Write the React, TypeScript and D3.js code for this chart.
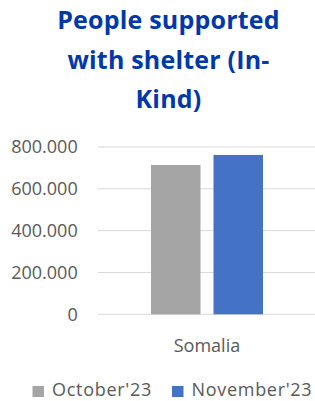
import React from "react";
import * as d3 from "d3";

const titleLines = ["People supported", "with shelter (In-", "Kind)"];
const categories = ["Somalia"];
const seriesNames = ["October'23", "November'23"];
const seriesValues = [[714000], [762000]];
const seriesColors = ["#A5A5A5", "#4472C4"];
const yTicks = [0, 200000, 400000, 600000, 800000];

const W = 315;
const H = 401;
const FONT = "'Open Sans', sans-serif";

export default function App() {
  const y = d3.scaleLinear().domain([0, 800000]).range([314.3, 147]);
  const x0 = d3
    .scaleBand<string>()
    .domain(categories)
    .range([98, 316])
    .paddingInner(0)
    .paddingOuter(0.473);
  const x1 = d3
    .scaleBand<string>()
    .domain(seriesNames)
    .range([0, x0.bandwidth()])
    .paddingInner(0.208)
    .paddingOuter(0);
  const fmt = (v: number) => d3.format(",")(v).replace(/,/g, ".");

  return (
    <svg
      width={W}
      height={H}
      style={{ position: "absolute", left: 0, top: 0, background: "#fff" }}
      fontFamily={FONT}
    >
      {titleLines.map((t, i) => (
        <text
          key={t}
          x={168.5}
          y={29 + i * 39.5}
          textAnchor="middle"
          fontSize={25}
          letterSpacing={0.2}
          fontWeight="bold"
          fill="#0038A8"
        >
          {t}
        </text>
      ))}
      {yTicks.map((t) => (
        <g key={t}>
          <line x1={98} x2={316} y1={y(t)} y2={y(t)} stroke="#D9D9D9" strokeWidth={1} />
          <text
            x={77.7}
            y={y(t)}
            dy="0.36em"
            textAnchor="end"
            fontSize={18}
            fill="#595959"
          >
            {fmt(t)}
          </text>
        </g>
      ))}
      {categories.map((c, ci) => (
        <g key={c} transform={`translate(${x0(c)},0)`}>
          {seriesNames.map((s, si) => (
            <rect
              key={s}
              x={x1(s)}
              y={y(seriesValues[si][ci])}
              width={x1.bandwidth()}
              height={y(0) - y(seriesValues[si][ci])}
              fill={seriesColors[si]}
            />
          ))}
          <text
            x={x0.bandwidth() / 2}
            y={352}
            textAnchor="middle"
            fontSize={18}
            fill="#595959"
          >
            {c}
          </text>
        </g>
      ))}
      <g>
        {seriesNames.map((s, si) => {
          const lx = si === 0 ? 32.5 : 172;
          return (
            <g key={s}>
              <rect x={lx} y={386} width={11.5} height={11} fill={seriesColors[si]} />
              <text
                x={lx + 19.5}
                y={396}
                fontSize={18}
                letterSpacing={0.7}
                fill="#595959"
              >
                {s}
              </text>
            </g>
          );
        })}
      </g>
    </svg>
  );
}
